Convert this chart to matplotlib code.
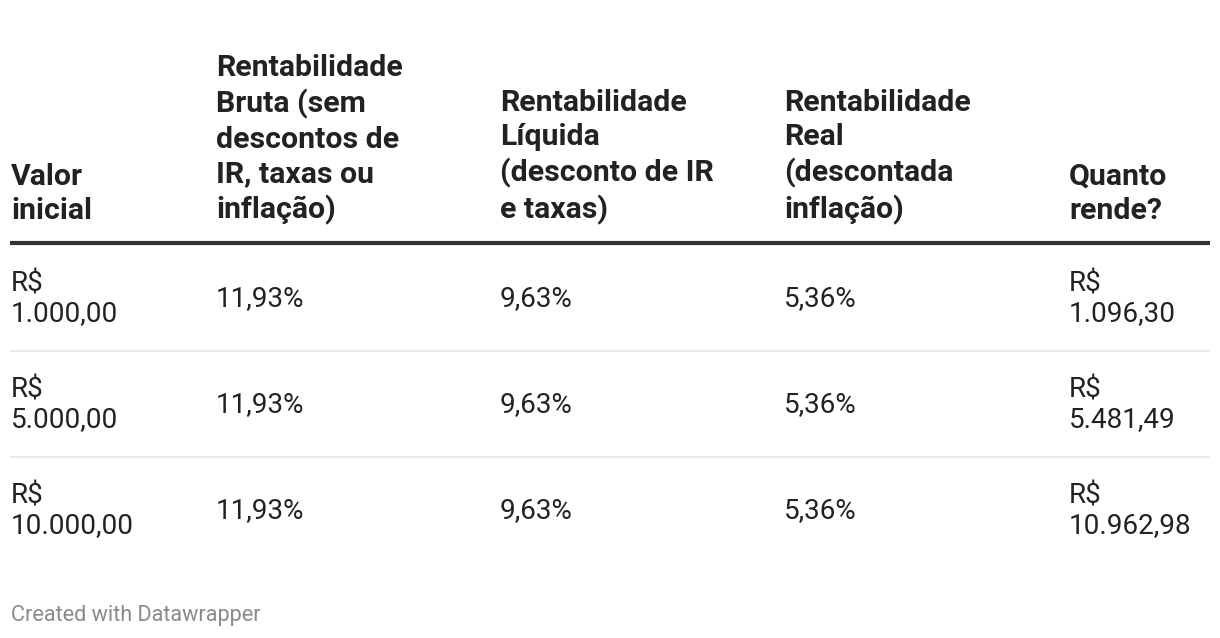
import matplotlib
matplotlib.use("Agg")
import matplotlib.pyplot as plt

plt.rcParams['font.family'] = ['Roboto', 'DejaVu Sans']

headers = [
    "Valor\ninicial",
    "Rentabilidade\nBruta (sem\ndescontos de\nIR, taxas ou\ninflação)",
    "Rentabilidade\nLíquida\n(desconto de IR\ne taxas)",
    "Rentabilidade\nReal\n(descontada\ninflação)",
    "Quanto\nrende?",
]
valor_inicial = ["R$\n1.000,00", "R$\n5.000,00", "R$\n10.000,00"]
rent_bruta = ["11,93%", "11,93%", "11,93%"]
rent_liquida = ["9,63%", "9,63%", "9,63%"]
rent_real = ["5,36%", "5,36%", "5,36%"]
quanto_rende = ["R$\n1.096,30", "R$\n5.481,49", "R$\n10.962,98"]
footer = "Created with Datawrapper"

columns = [valor_inicial, rent_bruta, rent_liquida, rent_real, quanto_rende]

W, H = 1220, 638
fig = plt.figure(figsize=(W / 100, H / 100), dpi=100)
ax = fig.add_axes([0, 0, 1, 1])
ax.set_xlim(0, W)
ax.set_ylim(H, 0)
ax.axis('off')

col_x = [11, 216, 500, 784, 1069]
text_color = '#222222'

# header, bottom-aligned
header_bottom = 225
for x, h in zip(col_x, headers):
    ax.text(x, header_bottom, h, fontsize=21.8, fontweight='bold', color=text_color,
            ha='left', va='bottom', linespacing=1.29)

# thick rule under header
ax.plot([10, 1210], [243, 243], color='#333333', lw=3, solid_capstyle='butt')

row_centers = [299, 405, 511]
for r, yc in enumerate(row_centers):
    for x, col in zip(col_x, columns):
        ax.text(x, yc, col[r], fontsize=20.1, color=text_color, ha='left',
                va='center', linespacing=1.12)

# row separators
for y in [351, 457]:
    ax.plot([10, 1210], [y, y], color='#e6e6e6', lw=1.2, solid_capstyle='butt')

ax.text(11, 616, footer, fontsize=15.6, color='#8a8a8a', ha='left', va='center')

fig.savefig('out.png', dpi=100, facecolor='white')
